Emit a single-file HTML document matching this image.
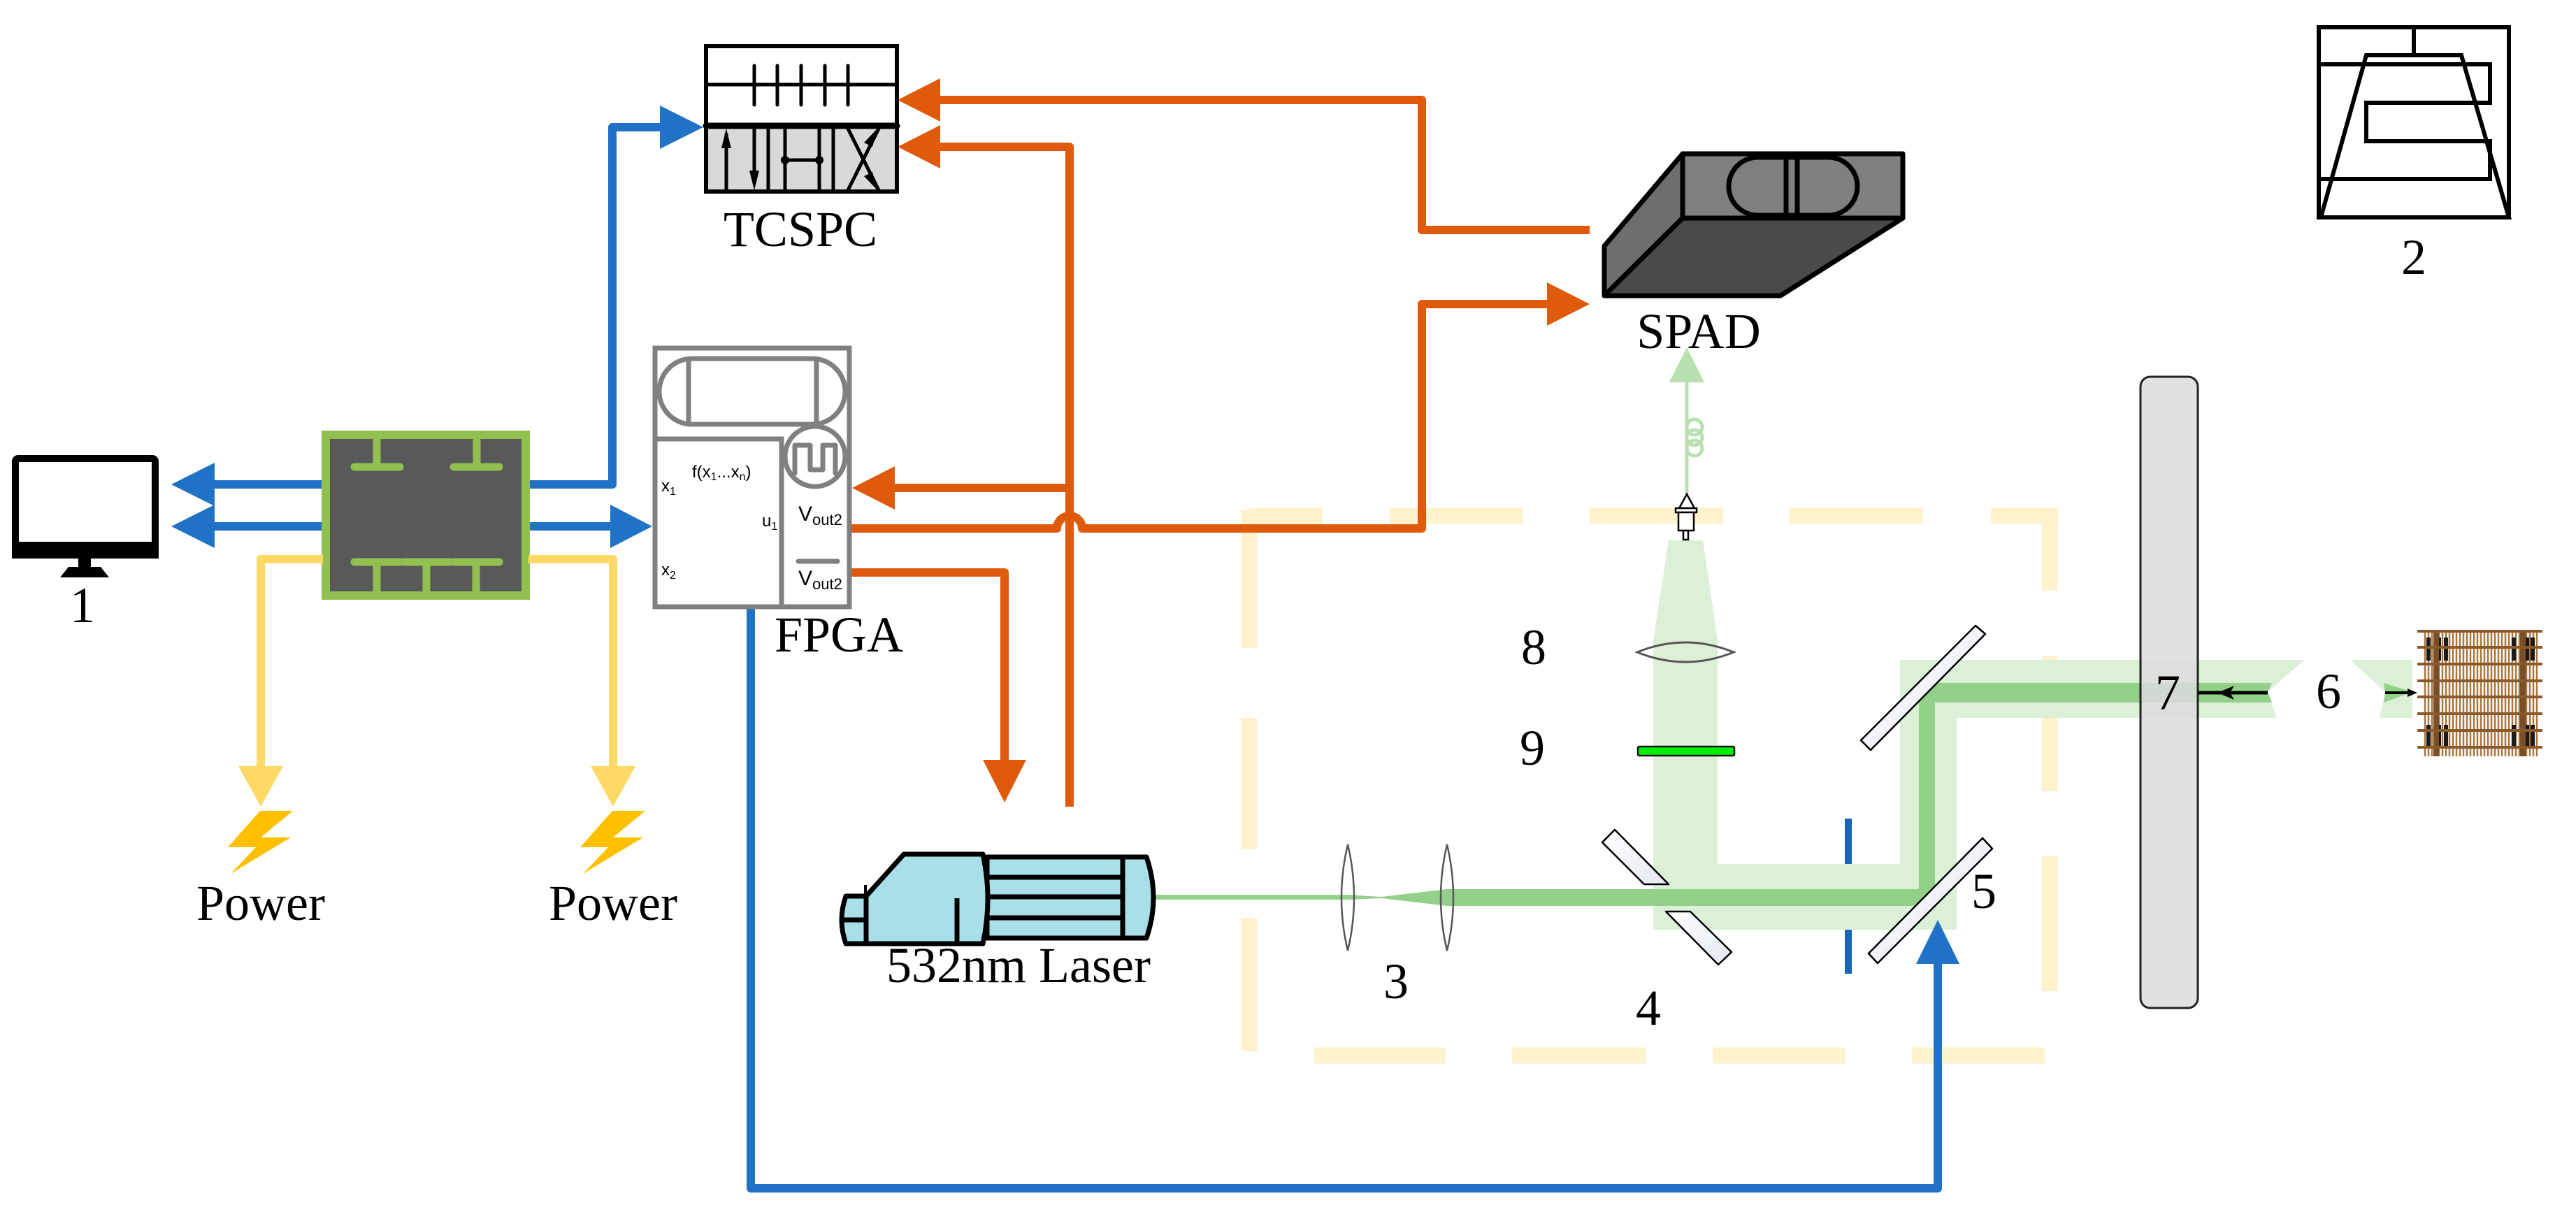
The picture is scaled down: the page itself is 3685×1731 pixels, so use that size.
<!DOCTYPE html>
<html><head><meta charset="utf-8"><style>
html,body{margin:0;padding:0;background:#fff;}
svg{display:block;}
</style></head><body>
<svg width="3685" height="1731" viewBox="0 0 3685 1731" xmlns="http://www.w3.org/2000/svg">
<defs>
<linearGradient id="mg" x1="0" y1="0" x2="1" y2="1"><stop offset="0" stop-color="#ffffff"/><stop offset="1" stop-color="#e4e8f2"/></linearGradient>
</defs>

<!-- dashed box -->
<g stroke="#fff2cc" stroke-width="23" fill="none">
<line x1="1787" y1="738" x2="1892" y2="738"/>
<line x1="1988" y1="738" x2="2178" y2="738"/>
<line x1="2274" y1="738" x2="2465" y2="738"/>
<line x1="2560" y1="738" x2="2750" y2="738"/>
<line x1="2848" y1="738" x2="2944" y2="738"/>
<line x1="2932" y1="738" x2="2932" y2="845"/>
<line x1="2932" y1="938" x2="2932" y2="1132"/>
<line x1="2932" y1="1225" x2="2932" y2="1418"/>
<line x1="1880" y1="1510" x2="2068" y2="1510"/>
<line x1="2163" y1="1510" x2="2355" y2="1510"/>
<line x1="2450" y1="1510" x2="2640" y2="1510"/>
<line x1="2735" y1="1510" x2="2925" y2="1510"/>
<line x1="1787" y1="730" x2="1787" y2="927"/>
<line x1="1787" y1="1027" x2="1787" y2="1215"/>
<line x1="1787" y1="1313" x2="1787" y2="1504"/>
</g>

<!-- light beams -->
<g fill="#dcf0d7">
<polygon points="2387,773 2436,773 2457,916 2365,916"/>
<rect x="2365" y="916" width="92" height="414"/>
<rect x="2365" y="1236" width="434" height="94"/>
<rect x="2718" y="944" width="81" height="386"/>
<polygon points="2718,944 3297,944 3244,990 3257,1027 2718,1027"/>
<polygon points="3362,944 3451,944 3451,1027 3404,1027 3412,990"/>
</g>
<!-- thick beam -->
<g fill="#93d08a">
<polygon points="1652,1280 1928,1280 1976,1283 2070,1272 2768,1272 2768,1296 2070,1296 1976,1285 1928,1287 1652,1287"/>
<rect x="2745" y="977" width="23" height="319"/>
<polygon points="2745,977 3250,977 3244,990 3250,1005 2745,1005"/>
<polygon points="3410,977 3451,990 3410,1005 3412,990"/>
</g>

<!-- rod 7 -->
<rect x="3062" y="539" width="82" height="903" rx="14" fill="#dcdcdc" fill-opacity="0.85" stroke="#222" stroke-width="3"/>
<line x1="3144" y1="991" x2="3244" y2="991" stroke="#000" stroke-width="5"/>
<polygon points="3172,991 3196,981 3190,991 3196,1001" fill="#000"/>
<line x1="3412" y1="991" x2="3448" y2="991" stroke="#000" stroke-width="4"/>
<polygon points="3458,991 3444,985 3444,997" fill="#000"/>

<!-- target -->
<g>
<g stroke="#a9763f" stroke-width="2.5">
<line x1="3469" y1="905" x2="3469" y2="1082"/><line x1="3474" y1="905" x2="3474" y2="1082"/><line x1="3479" y1="905" x2="3479" y2="1082"/><line x1="3484" y1="905" x2="3484" y2="1082"/><line x1="3489" y1="905" x2="3489" y2="1082"/><line x1="3494" y1="905" x2="3494" y2="1082"/><line x1="3499" y1="905" x2="3499" y2="1082"/><line x1="3504" y1="905" x2="3504" y2="1082"/><line x1="3509" y1="905" x2="3509" y2="1082"/><line x1="3514" y1="905" x2="3514" y2="1082"/><line x1="3519" y1="905" x2="3519" y2="1082"/><line x1="3524" y1="905" x2="3524" y2="1082"/><line x1="3529" y1="905" x2="3529" y2="1082"/><line x1="3534" y1="905" x2="3534" y2="1082"/><line x1="3539" y1="905" x2="3539" y2="1082"/><line x1="3544" y1="905" x2="3544" y2="1082"/><line x1="3549" y1="905" x2="3549" y2="1082"/><line x1="3554" y1="905" x2="3554" y2="1082"/><line x1="3559" y1="905" x2="3559" y2="1082"/><line x1="3564" y1="905" x2="3564" y2="1082"/><line x1="3569" y1="905" x2="3569" y2="1082"/><line x1="3574" y1="905" x2="3574" y2="1082"/><line x1="3579" y1="905" x2="3579" y2="1082"/><line x1="3584" y1="905" x2="3584" y2="1082"/><line x1="3589" y1="905" x2="3589" y2="1082"/><line x1="3594" y1="905" x2="3594" y2="1082"/><line x1="3599" y1="905" x2="3599" y2="1082"/><line x1="3604" y1="905" x2="3604" y2="1082"/><line x1="3609" y1="905" x2="3609" y2="1082"/><line x1="3614" y1="905" x2="3614" y2="1082"/><line x1="3619" y1="905" x2="3619" y2="1082"/><line x1="3624" y1="905" x2="3624" y2="1082"/><line x1="3629" y1="905" x2="3629" y2="1082"/>
</g>
<g fill="#1a1a1a">
<rect x="3471" y="912" width="6" height="33"/><rect x="3486" y="912" width="6" height="33"/><rect x="3496" y="912" width="6" height="33"/>
<rect x="3471" y="1037" width="6" height="30"/><rect x="3486" y="1037" width="6" height="30"/><rect x="3496" y="1037" width="6" height="30"/>
<rect x="3593" y="912" width="6" height="33"/><rect x="3612" y="912" width="6" height="33"/><rect x="3620" y="912" width="6" height="33"/>
<rect x="3593" y="1037" width="6" height="30"/><rect x="3612" y="1037" width="6" height="30"/><rect x="3620" y="1037" width="6" height="30"/>
</g>
<g fill="#7a4f25"><rect x="3481" y="903" width="8" height="179"/><rect x="3605" y="903" width="8" height="179"/></g>
<g stroke="#8b5a2b" stroke-width="4">
<line x1="3458" y1="903" x2="3637" y2="903"/><line x1="3458" y1="926" x2="3637" y2="926"/><line x1="3458" y1="950" x2="3637" y2="950"/><line x1="3458" y1="974" x2="3637" y2="974"/><line x1="3458" y1="997" x2="3637" y2="997"/><line x1="3458" y1="1021" x2="3637" y2="1021"/><line x1="3458" y1="1045" x2="3637" y2="1045"/><line x1="3458" y1="1069" x2="3637" y2="1069"/>
</g>
</g>

<!-- lenses 3 -->
<path d="M1928,1208 Q1946,1284 1928,1360 Q1910,1284 1928,1208 Z" fill="none" stroke="#555" stroke-width="2.5"/>
<path d="M2070,1208 Q2088,1284 2070,1360 Q2052,1284 2070,1208 Z" fill="none" stroke="#555" stroke-width="2.5"/>
<!-- lens 8 -->
<path d="M2342,933 Q2411,905 2480,933 Q2411,961 2342,933 Z" fill="none" stroke="#555" stroke-width="3"/>
<!-- filter 9 -->
<rect x="2343" y="1068" width="138" height="13" rx="2" fill="#00ee00" stroke="#111" stroke-width="2.5"/>

<!-- mirrors -->
<g fill="url(#mg)" stroke="#000" stroke-width="2.5" stroke-linejoin="round">
<polygon points="2662,1059 2826,895 2840,907 2676,1073"/>
<polygon points="2673,1364 2836,1199 2850,1214 2686,1378"/>
<polygon points="2292,1205 2310,1187 2387,1265 2352,1265"/>
<polygon points="2383,1304 2418,1304 2477,1362 2458,1380"/>
</g>
<!-- aperture -->
<g stroke="#1565b8" stroke-width="10"><line x1="2644" y1="1171" x2="2644" y2="1236"/><line x1="2644" y1="1330" x2="2644" y2="1393"/></g>

<!-- laser -->
<g fill="#a8dfe9" stroke="#000" stroke-width="7" stroke-linejoin="round">
<path d="M1412,1226 L1640,1226 Q1660,1284 1640,1342 L1412,1342 Z"/>
<path d="M1210,1282 L1239,1282 L1239,1350 L1210,1350 Q1198,1316 1210,1282 Z"/>
<path d="M1239,1282 L1293,1222 L1406,1222 Q1420,1286 1406,1350 L1239,1350 Z"/>
</g>
<g stroke="#000" stroke-width="7" fill="none">
<line x1="1412" y1="1255" x2="1606" y2="1255"/>
<line x1="1412" y1="1283" x2="1606" y2="1283"/>
<line x1="1412" y1="1313" x2="1606" y2="1313"/>
<line x1="1606" y1="1226" x2="1606" y2="1342"/>
<line x1="1369" y1="1285" x2="1369" y2="1347"/>
<line x1="1203" y1="1316" x2="1239" y2="1316"/>
<line x1="1238" y1="1266" x2="1238" y2="1284" stroke-width="4"/>
</g>

<!-- fiber -->
<line x1="2413" y1="545" x2="2413" y2="707" stroke="#b8e0b0" stroke-width="5"/>
<polygon points="2413,497 2438,547 2388,547" fill="#b8e0b0"/>
<g fill="none" stroke="#b8e0b0" stroke-width="5">
<circle cx="2424" cy="611" r="11"/><circle cx="2424" cy="626" r="11"/><circle cx="2424" cy="641" r="11"/>
</g>
<g fill="#fff" stroke="#000" stroke-width="2.5">
<polygon points="2413,707 2402,727 2424,727"/>
<rect x="2397" y="727" width="30" height="6"/>
<rect x="2401" y="733" width="22" height="26"/>
<rect x="2408" y="759" width="7" height="13"/>
</g>

<!-- SPAD -->
<g stroke="#000" stroke-width="7" stroke-linejoin="round">
<polygon points="2295,352 2407,220 2407,312 2295,423" fill="#6e6e6e"/>
<polygon points="2295,423 2547,423 2722,312 2407,312" fill="#4a4a4a"/>
<rect x="2407" y="220" width="315" height="92" fill="#808080"/>
<rect x="2473" y="225" width="184" height="83" rx="42" fill="#7f7f7f"/>
<line x1="2555" y1="225" x2="2555" y2="308"/>
<line x1="2571" y1="225" x2="2571" y2="308"/>
</g>

<!-- monitor -->
<rect x="22" y="656" width="200" height="138" rx="4" fill="#fff" stroke="#000" stroke-width="10"/>
<rect x="17" y="775" width="210" height="24" fill="#000"/>
<rect x="112" y="799" width="18" height="12" fill="#000"/>
<polygon points="98,811 144,811 156,826 86,826" fill="#000"/>

<!-- green hub -->
<rect x="466" y="622" width="286" height="230" fill="#595959" stroke="#92c050" stroke-width="12"/>
<g stroke="#92c050" stroke-width="11" stroke-linecap="round" fill="none">
<line x1="539" y1="630" x2="539" y2="668"/><line x1="507" y1="668" x2="572" y2="668"/>
<line x1="682" y1="630" x2="682" y2="668"/><line x1="649" y1="668" x2="714" y2="668"/>
<line x1="507" y1="804" x2="572" y2="804"/><line x1="578" y1="804" x2="643" y2="804"/><line x1="649" y1="804" x2="714" y2="804"/>
<line x1="539" y1="804" x2="539" y2="846"/><line x1="610" y1="804" x2="610" y2="846"/><line x1="681" y1="804" x2="681" y2="846"/>
</g>

<!-- blue connectors -->
<g stroke="#1f72c6" stroke-width="12" fill="none" stroke-linejoin="round">
<line x1="300" y1="693" x2="460" y2="693"/>
<line x1="300" y1="753" x2="460" y2="753"/>
<polyline points="758,693 876,693 876,182 950,182"/>
<line x1="758" y1="753" x2="878" y2="753"/>
<polyline points="1074,868 1074,1700 2772,1700 2772,1372"/>
</g>
<g fill="#1f72c6">
<polygon points="245,693 307,662 307,724"/>
<polygon points="245,753 307,722 307,784"/>
<polygon points="1006,182 944,151 944,213"/>
<polygon points="933,753 873,722 873,784"/>
<polygon points="2772,1316 2803,1379 2741,1379"/>
</g>

<!-- yellow -->
<g stroke="#ffd966" stroke-width="12" fill="none" stroke-linejoin="round">
<polyline points="462,800 373,800 373,1100"/>
<polyline points="756,800 877,800 877,1100"/>
</g>
<g fill="#ffd966">
<polygon points="373,1154 341,1096 405,1096"/>
<polygon points="877,1154 845,1096 909,1096"/>
</g>
<g fill="#ffc000">
<polygon points="372,1160 419,1160 373,1198 416,1198 330,1250 366,1212 326,1212"/>
<polygon points="876,1160 923,1160 877,1198 920,1198 834,1250 870,1212 830,1212"/>
</g>

<!-- orange -->
<g stroke="#e05a0b" stroke-width="12" fill="none" stroke-linejoin="round">
<polyline points="2274,329 2034,329 2034,143 1340,143"/>
<polyline points="1530,1154 1530,210 1340,210"/>
<line x1="1275" y1="698" x2="1530" y2="698"/>
<path d="M1213,756 L1512,756 A18,18 0 0 1 1548,756 L2034,756 L2034,435 L2218,435"/>
<polyline points="1213,819 1437,819 1437,1092"/>
</g>
<g fill="#e05a0b">
<polygon points="1284,143 1345,112 1345,174"/>
<polygon points="1284,210 1345,179 1345,241"/>
<polygon points="1219,698 1280,667 1280,729"/>
<polygon points="2274,435 2213,404 2213,466"/>
<polygon points="1437,1148 1406,1087 1468,1087"/>
</g>

<!-- TCSPC -->
<rect x="1010" y="66" width="273" height="208" fill="#fff" stroke="#000" stroke-width="6"/>
<rect x="1013" y="180" width="267" height="91" fill="#d9d9d9"/>
<g stroke="#000" stroke-linecap="round">
<line x1="1010" y1="180" x2="1283" y2="180" stroke-width="9"/>
<line x1="1010" y1="121" x2="1283" y2="121" stroke-width="5"/>
<g stroke-width="5"><line x1="1079" y1="94" x2="1079" y2="150"/><line x1="1112" y1="94" x2="1112" y2="150"/><line x1="1146" y1="94" x2="1146" y2="150"/><line x1="1180" y1="94" x2="1180" y2="150"/><line x1="1213" y1="94" x2="1213" y2="150"/></g>
<g stroke-width="5"><line x1="1039" y1="192" x2="1039" y2="272"/><line x1="1079" y1="184" x2="1079" y2="262"/><line x1="1099" y1="184" x2="1099" y2="272"/><line x1="1123" y1="184" x2="1123" y2="272"/><line x1="1172" y1="184" x2="1172" y2="272"/><line x1="1192" y1="184" x2="1192" y2="272"/>
<line x1="1123" y1="229" x2="1172" y2="229"/>
<line x1="1213" y1="272" x2="1257" y2="184"/><line x1="1213" y1="184" x2="1257" y2="272"/></g>
</g>
<g fill="#000">
<polygon points="1039,184 1032,212 1046,212"/>
<polygon points="1079,272 1072,244 1086,244"/>
<circle cx="1123" cy="229" r="6"/><circle cx="1172" cy="229" r="6"/>
<polygon points="1255,184 1236,204 1248,210"/>
<polygon points="1255,272 1236,252 1248,246"/>
</g>

<!-- FPGA -->
<g stroke="#808080" stroke-width="7" fill="none">
<rect x="937" y="498" width="278" height="370" fill="#fff"/>
<rect x="943" y="513" width="266" height="94" rx="47"/>
<line x1="985" y1="513" x2="985" y2="607"/><line x1="1168" y1="513" x2="1168" y2="607"/>
<polyline points="937,628 1118,628 1118,868"/>
<circle cx="1166" cy="653" r="43" fill="#fff"/>
<polyline points="1137,677 1137,637 1159,637 1159,672 1177,672 1177,637 1195,637 1195,677" stroke-linejoin="round" stroke-linecap="round"/>
<line x1="1142" y1="803" x2="1198" y2="803" stroke-linecap="round"/>
</g>
<g font-family="Liberation Sans, sans-serif" fill="#000">
<text x="990" y="683" font-size="24">f(x<tspan font-size="16" dy="4">1</tspan><tspan dy="-4">...x</tspan><tspan font-size="16" dy="4">n</tspan><tspan dy="-4">)</tspan></text>
<text x="946" y="703" font-size="24">x<tspan font-size="16" dy="5">1</tspan></text>
<text x="946" y="823" font-size="24">x<tspan font-size="16" dy="5">2</tspan></text>
<text x="1090" y="753" font-size="24">u<tspan font-size="16" dy="5">1</tspan></text>
<text x="1142" y="745" font-size="30">V<tspan font-size="22" dy="6">out2</tspan></text>
<text x="1142" y="837" font-size="30">V<tspan font-size="22" dy="6">out2</tspan></text>
</g>

<!-- labels -->
<g font-family="Liberation Serif, serif" font-size="72" fill="#000" text-anchor="middle">
<text x="1145" y="352">TCSPC</text>
<text x="1200" y="932">FPGA</text>
<text x="2430" y="498">SPAD</text>
<text x="373" y="1316">Power</text>
<text x="877" y="1316">Power</text>
<text x="1457" y="1405">532nm Laser</text>
<text x="118" y="890">1</text>
<text x="3453" y="392">2</text>
<text x="1997" y="1428">3</text>
<text x="2358" y="1466">4</text>
<text x="2838" y="1299">5</text>
<text x="3331" y="1013">6</text>
<text x="3101" y="1015">7</text>
<text x="2194" y="950">8</text>
<text x="2192" y="1094">9</text>
</g>

<!-- icon 2 -->
<g stroke="#000" stroke-width="6" fill="none" stroke-linejoin="miter">
<rect x="3317" y="39" width="272" height="272"/>
<line x1="3453" y1="39" x2="3453" y2="79"/>
<polygon points="3385,79 3521,79 3589,311 3320,311"/>
<polyline points="3317,92 3562,92 3562,147 3385,147 3385,202 3562,202 3562,256 3317,256"/>
</g>
</svg>
</body></html>
